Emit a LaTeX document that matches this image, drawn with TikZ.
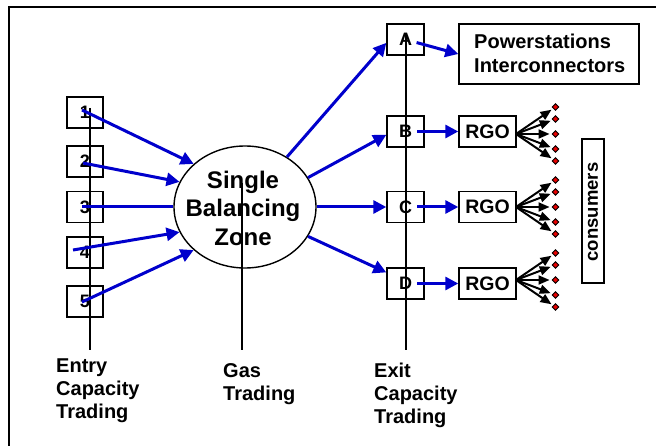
\documentclass[tikz,border=0pt]{standalone}
\usepackage{fontspec}
\setmainfont{Liberation Sans}
\usetikzlibrary{arrows.meta,shapes.geometric,calc}
\definecolor{arrowblue}{RGB}{0,0,204}
\definecolor{dotred}{RGB}{230,0,0}
\begin{document}
\begin{tikzpicture}[x=1pt,y=-1pt,
  box/.style={draw, line width=1.4pt, minimum width=36pt, minimum height=31pt, inner sep=0pt,
    font=\fontsize{18}{20}\selectfont\bfseries},
  rgobox/.style={box, minimum width=57pt, font=\fontsize{19.5}{22}\selectfont\bfseries},
  label/.style={anchor=north west, inner sep=0pt, align=left,
    font=\fontsize{20}{23}\selectfont\bfseries},
  bluearrow/.style={draw=arrowblue, line width=3pt, -{Triangle[length=13pt,width=13pt]}},
  blueline/.style={draw=arrowblue, line width=3pt},
  axis/.style={draw, line width=1.4pt},
  dot/.style={diamond, draw, fill=dotred, line width=0.9pt, minimum size=7pt, inner sep=0pt},
  fanarrow/.style={draw, line width=2pt, -{Triangle[length=11pt,width=9pt]}, shorten >=2pt},
]
\useasboundingbox (0,0) rectangle (656,446);
\fill[white] (0,0) rectangle (656,446);
% frame
\draw[line width=2pt] (9,450) -- (9,7) -- (660,7);

% entry boxes
\node[box] (b1) at (85,112.5) {1};
\node[box] (b2) at (85,161.5) {2};
\node[box] (b3) at (85,207) {3};
\node[box] (b4) at (85,252.5) {4};
\node[box] (b5) at (85,301.5) {5};

% zone
\node[ellipse, draw, line width=1.4pt, minimum width=142pt, minimum height=122pt, inner sep=0pt] (zone) at (245,207) {};
\node[inner sep=0pt, align=center, font=\fontsize{24}{28.5}\selectfont\bfseries] (zt) at (243,208) {Single\\Balancing\\Zone};

% exit boxes
\node[box, minimum width=37pt] (bA) at (405.5,39.5) {A};
\node[box, minimum width=37pt] (bB) at (405.5,131.5) {B};
\node[box, minimum width=37pt] (bC) at (405.5,207) {C};
\node[box, minimum width=37pt] (bD) at (405.5,283.5) {D};

% right boxes
\node[draw, line width=1.4pt, minimum width=180pt, minimum height=60pt, inner sep=0pt] (pw) at (549,54) {};
\node[label, font=\fontsize{20}{24.5}\selectfont\bfseries] (pwt) at (474,33.5) {Powerstations\\Interconnectors};
\node[rgobox] (rB) at (487.5,131.5) {RGO};
\node[rgobox] (rC) at (487.5,207) {RGO};
\node[rgobox] (rD) at (487.5,283.5) {RGO};
\node[draw, line width=1.4pt, minimum width=22pt, minimum height=144pt, inner sep=0pt] (cons) at (593,211) {};
\node[rotate=90, inner sep=0pt, font=\fontsize{18.5}{20}\selectfont\bfseries] (ct) at (593,212) {consumers};

% trading axes
\coordinate (e1) at (90,108);
\coordinate (e2) at (90,350);
\coordinate (g1) at (242,183);
\coordinate (g2) at (242,350);
\coordinate (x1) at (406,33);
\coordinate (x2) at (406,350);
\draw[axis] (e1) -- (e2);
\draw[axis] (g1) -- (g2);
\draw[axis] (x1) -- (x2);

% labels
\node[label] (le) at (56,358.5) {Entry\\Capacity\\Trading};
\node[label] (lg) at (223,363) {Gas\\Trading};
\node[label] (lx) at (374,363) {Exit\\Capacity\\Trading};

% entry arrows
\coordinate (s1) at (82,110);
\coordinate (s2) at (83,163);
\coordinate (s3) at (82,207);
\coordinate (s4) at (73,250);
\coordinate (s5) at (82,302);
\draw[bluearrow] (s1) -- (zone.140);
\draw[bluearrow] (s2) -- (zone.159.7);
\draw[blueline] (s3) -- (zone.180);
\draw[bluearrow] (s4) -- (zone.201);
\draw[bluearrow] (s5) -- (zone.220.7);

% exit arrows
\draw[bluearrow] (zone.50) -- (bA.190);
\draw[bluearrow] (zone.25.5) -- (bB.190);
\draw[bluearrow] (zone.0) -- (bC.west);
\draw[bluearrow] (zone.335) -- (bD.150);

% to right
\draw[bluearrow, shorten <=11.5pt] (bA.center) -- (pw.west);
\draw[bluearrow, shorten <=11.5pt] (bB.center) -- (rB.west);
\draw[bluearrow, shorten <=11.5pt] (bC.center) -- (rC.west);
\draw[bluearrow, shorten <=11.5pt] (bD.center) -- (rD.west);

% fans
\coordinate (fB) at (516,134);
\coordinate (fC) at (516,207);
\coordinate (fD) at (516,280);
\foreach \f in {B,C,D}{
  \foreach \o [count=\k] in {-27,-15,0,15,27}{
    \node[dot] (d\f\k) at ($(f\f)+(39.5,\o)$) {};
    \draw[fanarrow] (f\f) -- (d\f\k);
  }
}
\end{tikzpicture}
\end{document}
